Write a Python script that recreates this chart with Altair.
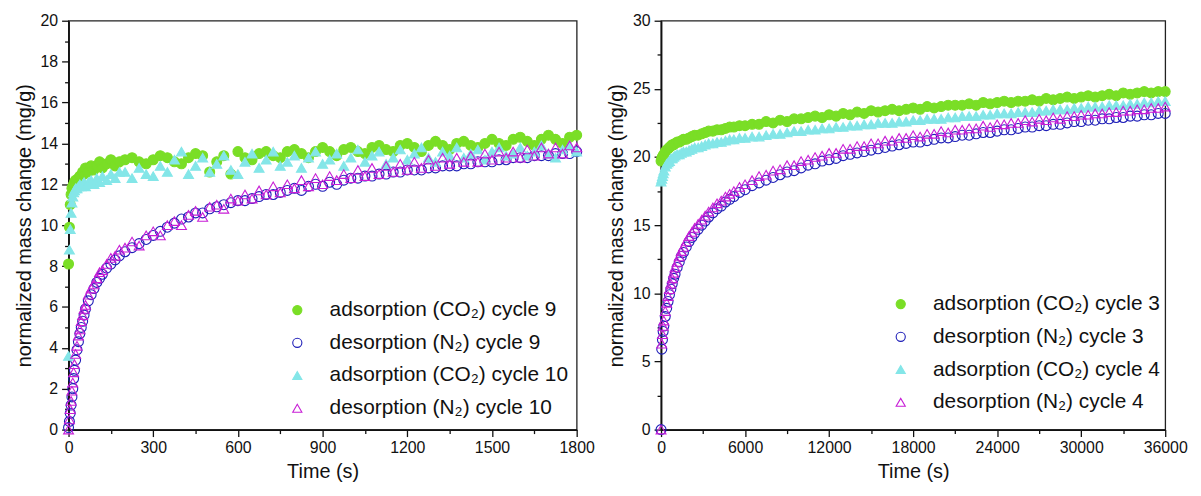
import altair as alt
import pandas as pd

# ---------------- Left panel: cycles 9 and 10 ----------------
t_left = [0, 3, 6, 9, 12, 15, 18, 21, 25, 30, 35, 40, 45, 50, 55, 60, 70, 80, 90, 100, 110, 120, 135, 150, 165, 180,
          200, 225, 250, 275, 300, 325, 350, 375,
          400, 425, 450, 475, 500, 525, 550, 575,
          600, 625, 650, 675, 700, 725, 750, 775,
          800, 825, 850, 875, 900, 925, 950, 975,
          1000, 1025, 1050, 1075, 1100, 1125, 1150, 1175,
          1200, 1225, 1250, 1275, 1300, 1325, 1350, 1375,
          1400, 1425, 1450, 1475, 1500, 1525, 1550, 1575,
          1600, 1625, 1650, 1675, 1700, 1725, 1750, 1775,
          1800]

ads_c9 = [8.1, 9.9, 11.0, 11.5, 11.8, 11.9, 12.0, 12.1, 12.2, 12.2, 12.3, 12.4, 12.4, 12.6, 12.5, 12.8, 12.6, 12.9,
          12.7, 12.9, 13.1, 12.8, 13.0, 13.2, 12.9, 13.1,
          13.2, 13.3, 13.1, 13.0, 13.2, 13.4, 13.3, 13.1,
          13.0, 13.3, 13.5, 13.4, 12.6, 13.1, 13.4, 12.5,
          13.6, 13.3, 13.2, 13.5, 13.6, 13.4, 13.3, 13.6,
          13.7, 13.5, 13.3, 13.6, 13.8, 13.6, 13.4, 13.7,
          13.8, 13.6, 13.5, 13.8, 13.9, 13.7, 13.6, 13.9,
          14.0, 13.8, 13.6, 13.9, 14.1, 13.9, 13.7, 14.0,
          14.1, 13.9, 13.8, 14.0, 14.2, 14.0, 13.9, 14.2,
          14.3, 14.1, 13.9, 14.2, 14.4, 14.2, 14.0, 14.3,
          14.4]

des_c9 = [0.1, 0.4, 0.8, 1.2, 1.6, 2.0, 2.5, 2.9, 3.4, 3.9, 4.3, 4.7, 5.0, 5.3, 5.6, 5.9, 6.3, 6.6,
          6.9, 7.2, 7.4, 7.6, 7.9, 8.1, 8.3, 8.5,
          8.7, 8.9, 9.1, 9.3, 9.5, 9.7, 9.9, 10.1,
          10.3, 10.4, 10.6, 10.6, 10.8, 10.9, 11.0, 11.1,
          11.2, 11.2, 11.3, 11.4, 11.5, 11.5, 11.6, 11.7,
          11.8, 11.7, 11.9, 12.0, 11.9, 12.1, 12.0, 12.2,
          12.3, 12.3, 12.4, 12.4, 12.5, 12.5, 12.6, 12.6,
          12.7, 12.7, 12.7, 12.8, 12.8, 12.9, 12.9, 12.9,
          13.0, 13.0, 13.1, 13.1, 13.1, 13.2, 13.2, 13.3,
          13.3, 13.3, 13.4, 13.4, 13.4, 13.5, 13.5, 13.5,
          13.6]

ads_c10 = [3.6, 8.8, 9.8, 10.6, 11.1, 11.4, 11.6, 11.7, 11.8, 11.8, 11.9, 12.0, 11.9, 12.0, 12.1, 11.9, 12.1, 12.2,
           12.0, 12.3, 12.1, 12.4, 12.2, 12.5, 12.3, 12.6,
           12.6, 12.3, 12.8, 12.5, 12.4, 12.9, 12.6, 13.2,
           13.6, 12.5, 12.9, 13.3, 12.6, 13.0, 13.4, 12.7,
           12.5, 13.1, 13.5, 12.8, 13.2, 13.6, 12.9, 13.1,
           13.4, 12.8, 13.3, 13.6, 13.0, 13.2, 13.5, 12.9,
           13.3, 13.7, 13.1, 13.4, 13.6, 13.0, 13.3, 13.7,
           13.2, 13.5, 13.8, 13.3, 13.1, 13.6, 13.4, 13.8,
           13.3, 13.5, 13.7, 13.2, 13.6, 13.8, 13.4, 13.5,
           13.8, 13.4, 13.6, 13.9, 13.5, 13.3, 13.7, 13.9,
           13.6]

des_c10 = [0.0, 0.5, 1.0, 1.4, 1.9, 2.3, 2.8, 3.2, 3.7, 4.1, 4.6, 4.9, 5.3, 5.6, 5.9, 6.1, 6.6, 6.9,
           7.1, 7.4, 7.7, 7.8, 8.1, 8.4, 8.5, 8.8,
           8.9, 9.2, 9.0, 9.5, 9.7, 9.5, 10.0, 10.2,
           10.0, 10.5, 10.7, 10.4, 10.9, 11.0, 10.8, 11.3,
           11.2, 11.5, 11.3, 11.7, 11.5, 11.9, 11.6, 12.0,
           11.8, 12.2, 11.9, 12.3, 12.0, 12.4, 12.2, 12.5,
           12.3, 12.7, 12.4, 12.8, 12.5, 12.9, 12.6, 13.0,
           12.7, 13.1, 12.8, 13.2, 12.9, 13.3, 13.0, 13.3,
           13.1, 13.4, 13.1, 13.5, 13.2, 13.6, 13.3, 13.6,
           13.3, 13.7, 13.4, 13.8, 13.5, 13.8, 13.5, 13.9,
           13.8]

labels_left = ["adsorption (CO₂) cycle 9", "desorption (N₂) cycle 9",
               "adsorption (CO₂) cycle 10", "desorption (N₂) cycle 10"]

x_ticks_left = [0, 150, 300, 450, 600, 750, 900, 1050, 1200, 1350, 1500, 1650, 1800]
y_ticks_left = [0, 1, 2, 3, 4, 5, 6, 7, 8, 9, 10, 11, 12, 13, 14, 15, 16, 17, 18, 19, 20]

# ---------------- Right panel: cycles 3 and 4 ----------------
t_right = [0, 50, 100, 150, 200, 300, 400, 500, 600, 700, 800, 900, 1000, 1150, 1300, 1450, 1600,
           1800, 2000, 2200, 2400, 2650, 2900, 3150, 3400, 3700, 4000, 4300, 4600, 4900, 5200, 5600, 6000,
           6500, 7000, 7500, 8000, 8500, 9000, 9500, 10000, 10500, 11000,
           11500, 12000, 12500, 13000, 13500, 14000, 14500, 15000, 15500, 16000,
           16500, 17000, 17500, 18000, 18500, 19000, 19500, 20000, 20500, 21000,
           21500, 22000, 22500, 23000, 23500, 24000, 24500, 25000, 25500, 26000,
           26500, 27000, 27500, 28000, 28500, 29000, 29500, 30000, 30500, 31000,
           31500, 32000, 32500, 33000, 33500, 34000, 34500, 35000, 35500, 36000]

ads_c3 = [19.7, 19.9, 20.0, 20.1, 20.2, 20.4, 20.5, 20.6, 20.7, 20.8, 20.9, 20.9, 21.0, 21.1, 21.1, 21.2, 21.3,
          21.3, 21.4, 21.5, 21.6, 21.6, 21.7, 21.8, 21.9, 21.9, 22.0, 22.0, 22.1, 22.2, 22.2, 22.3, 22.3,
          22.4, 22.4, 22.6, 22.5, 22.7, 22.6, 22.8, 22.8, 22.9, 23.0,
          22.9, 23.1, 23.0, 23.2, 23.1, 23.3, 23.2, 23.4, 23.3, 23.4,
          23.5, 23.4, 23.5, 23.6, 23.5, 23.7, 23.6, 23.7, 23.8, 23.8,
          23.8, 23.9, 23.8, 24.0, 23.9, 24.0, 24.1, 24.0, 24.1, 24.1,
          24.2, 24.1, 24.3, 24.2, 24.3, 24.4, 24.3, 24.4, 24.5, 24.4,
          24.5, 24.6, 24.5, 24.7, 24.6, 24.7, 24.8, 24.7, 24.8, 24.8]

des_c3 = [0.0, 5.9, 6.6, 7.2, 7.6, 8.3, 8.9, 9.4, 9.9, 10.3, 10.7, 11.1, 11.4, 11.9, 12.3, 12.7, 13.0,
          13.4, 13.8, 14.1, 14.4, 14.7, 15.0, 15.3, 15.6, 15.9, 16.2, 16.4, 16.7, 16.9, 17.1, 17.4, 17.6,
          17.9, 18.1, 18.3, 18.5, 18.7, 18.9, 19.0, 19.2, 19.4, 19.5,
          19.7, 19.8, 19.9, 20.1, 20.2, 20.3, 20.4, 20.5, 20.6, 20.7,
          20.8, 20.9, 21.0, 21.1, 21.1, 21.2, 21.3, 21.4, 21.4, 21.5,
          21.6, 21.6, 21.7, 21.8, 21.8, 21.9, 22.0, 22.0, 22.1, 22.2,
          22.2, 22.3, 22.3, 22.4, 22.4, 22.5, 22.6, 22.6, 22.7, 22.7,
          22.8, 22.8, 22.9, 22.9, 23.0, 23.0, 23.1, 23.1, 23.2, 23.2]

ads_c4 = [18.2, 18.4, 18.6, 18.8, 19.0, 19.3, 19.5, 19.6, 19.7, 19.9, 19.9, 20.0, 20.1, 20.2, 20.2, 20.3, 20.4,
          20.4, 20.5, 20.6, 20.7, 20.7, 20.8, 20.9, 21.0, 21.0, 21.1, 21.1, 21.2, 21.3, 21.3, 21.4, 21.4,
          21.5, 21.5, 21.6, 21.7, 21.7, 21.8, 21.9, 21.9, 22.0, 22.0,
          22.1, 22.1, 22.2, 22.2, 22.3, 22.3, 22.4, 22.4, 22.5, 22.5,
          22.5, 22.6, 22.6, 22.7, 22.7, 22.8, 22.8, 22.8, 22.9, 22.9,
          23.0, 23.0, 23.0, 23.1, 23.1, 23.2, 23.2, 23.2, 23.3, 23.3,
          23.3, 23.4, 23.4, 23.5, 23.5, 23.5, 23.6, 23.6, 23.7, 23.7,
          23.7, 23.8, 23.8, 23.8, 23.9, 23.9, 24.0, 24.0, 24.1, 24.1]

des_c4 = [0.0, 6.3, 7.0, 7.6, 8.0, 8.7, 9.3, 9.8, 10.3, 10.7, 11.1, 11.5, 11.9, 12.3, 12.7, 13.1, 13.4,
          13.8, 14.2, 14.5, 14.8, 15.1, 15.4, 15.7, 16.0, 16.3, 16.6, 16.8, 17.1, 17.3, 17.5, 17.8, 18.0,
          18.3, 18.6, 18.7, 19.0, 19.1, 19.4, 19.4, 19.7, 19.8, 20.0,
          20.1, 20.3, 20.3, 20.6, 20.6, 20.8, 20.8, 21.0, 21.0, 21.2,
          21.2, 21.4, 21.4, 21.6, 21.5, 21.7, 21.7, 21.9, 21.8, 22.0,
          22.0, 22.1, 22.1, 22.3, 22.2, 22.4, 22.4, 22.5, 22.5, 22.7,
          22.6, 22.8, 22.7, 22.9, 22.8, 23.0, 23.0, 23.1, 23.1, 23.2,
          23.2, 23.3, 23.3, 23.4, 23.4, 23.5, 23.5, 23.6, 23.6, 23.7]

labels_right = ["adsorption (CO₂) cycle 3", "desorption (N₂) cycle 3",
                "adsorption (CO₂) cycle 4", "desorption (N₂) cycle 4"]

x_ticks_right = [0, 3000, 6000, 9000, 12000, 15000, 18000, 21000, 24000, 27000, 30000, 33000, 36000]
y_ticks_right = [0, 2.5, 5, 7.5, 10, 12.5, 15, 17.5, 20, 22.5, 25, 27.5, 30]

# ---------------- styles ----------------
COLORS = ["#7ade26", "#1e1eb8", "#84e6e8", "#c81ed6"]
FILLS = ["#7ade26", "transparent", "#84e6e8", "transparent"]
SHAPES = ["circle", "circle", "triangle-up", "triangle-up"]
FONT = "Liberation Sans"


def panel(t, series, labels, xdom, xticks, xmajor, ydom, yticks, ymajor, width, lx, ly):
    rows = []
    for lab, vals in zip(labels, series):
        for ti, v in zip(t, vals):
            rows.append({"time": ti, "mass": v, "series": lab})
    df = pd.DataFrame(rows)

    leg = alt.Legend(title=None, orient="none", legendX=lx, legendY=ly,
                     labelFontSize=21, labelFont=FONT, labelColor="#111",
                     symbolSize=85, symbolStrokeWidth=1.1, rowPadding=11,
                     labelOffset=22, padding=0, labelLimit=0)

    xaxis = alt.Axis(values=xticks, title="Time (s)", grid=False, format="d",
                     labelExpr=f"datum.value % {xmajor} === 0 ? datum.label : ''",
                     tickSize={"condition": {"test": f"datum.value % {xmajor} === 0", "value": 7}, "value": 4},
                     labelFlush=False, labelOverlap=False, labelPadding=3, titlePadding=6)
    yaxis = alt.Axis(values=yticks, title="normalized mass change (mg/g)", grid=False, format="d",
                     labelExpr=f"datum.value % {ymajor} === 0 ? datum.label : ''",
                     tickSize={"condition": {"test": f"datum.value % {ymajor} === 0", "value": 7}, "value": 4},
                     labelOverlap=False, labelPadding=4, titlePadding=6)

    return alt.Chart(df).mark_point(filled=False, size=100, strokeWidth=1.1, opacity=1).encode(
        x=alt.X("time:Q", scale=alt.Scale(domain=xdom, nice=False, zero=False), axis=xaxis),
        y=alt.Y("mass:Q", scale=alt.Scale(domain=ydom, nice=False), axis=yaxis),
        color=alt.Color("series:N", scale=alt.Scale(domain=labels, range=COLORS), legend=leg),
        fill=alt.Fill("series:N", scale=alt.Scale(domain=labels, range=FILLS), legend=leg),
        shape=alt.Shape("series:N", scale=alt.Scale(domain=labels, range=SHAPES), legend=leg),
    ).properties(width=width, height=412)


left = panel(t_left, [ads_c9, des_c9, ads_c10, des_c10], labels_left,
             [0, 1800], x_ticks_left, 300, [0, 20], y_ticks_left, 2, 512, 220, 281)
right = panel(t_right, [ads_c3, des_c3, ads_c4, des_c4], labels_right,
              [0, 36000], x_ticks_right, 6000, [0, 30], y_ticks_right, 5, 508, 231, 275)

chart = alt.hconcat(left, right, spacing=85, bounds="flush").resolve_scale(
    color="independent", fill="independent", shape="independent",
    x="independent", y="independent"
).configure_view(
    stroke="#222", strokeWidth=1.3
).configure_axis(
    domainColor="#111", domainWidth=1.8, tickColor="#111", tickWidth=1.3,
    labelFont=FONT, labelFontSize=16, labelColor="#111",
    titleFont=FONT, titleFontSize=20, titleFontWeight="normal", titleColor="#111"
).properties(
    padding={"left": 5, "top": 2, "right": 5, "bottom": 2}
)

chart.save("out.html", embed_options={"renderer": "svg", "actions": False})
